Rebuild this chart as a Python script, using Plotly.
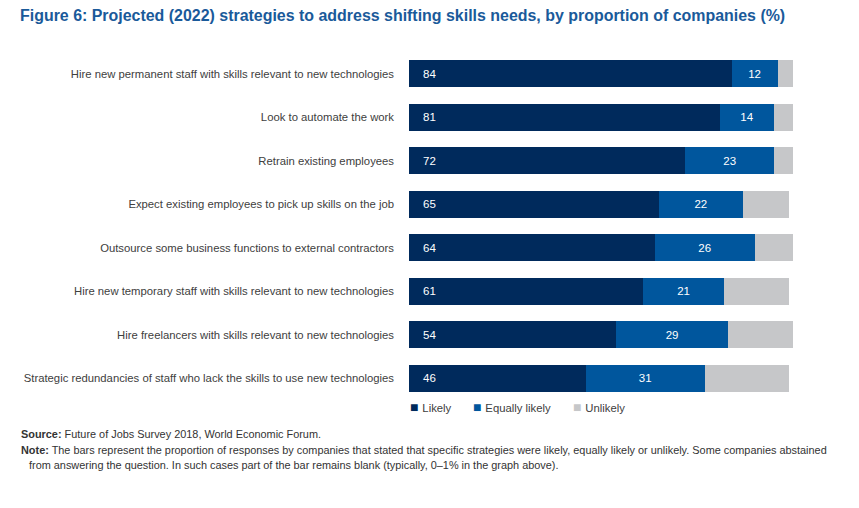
import plotly.graph_objects as go

# Datos (porcentaje de empresas)
strategies = [
    "Hire new permanent staff with skills relevant to new technologies",
    "Look to automate the work",
    "Retrain existing employees",
    "Expect existing employees to pick up skills on the job",
    "Outsource some business functions to external contractors",
    "Hire new temporary staff with skills relevant to new technologies",
    "Hire freelancers with skills relevant to new technologies",
    "Strategic redundancies of staff who lack the skills to use new technologies",
]
likely = [84, 81, 72, 65, 64, 61, 54, 46]
equally_likely = [12, 14, 23, 22, 26, 21, 29, 31]
unlikely = [4, 5, 5, 12, 10, 17, 17, 22]
series_names = ["Likely", "Equally likely", "Unlikely"]

NAVY = "#002a5c"
BLUE = "#00569d"
GREY = "#c6c7c9"
FONT = "Liberation Sans, Arial, sans-serif"

# La pagina tiene 8px de margen en el body: las medidas de la referencia se corrigen
OFF = 8
W, H = 859, 508
L, T = 409 - OFF, 52 - OFF
R = W - (793.5 - OFF)
B = H - (400 - OFF)
plot_w = W - L - R
plot_h = H - T - B


def px_x(p):
    return (p - OFF - L) / plot_w


def px_y(p):
    return (H - B - (p - OFF)) / plot_h


fig = go.Figure()

fig.add_trace(go.Bar(
    name="Likely", y=strategies, x=likely, orientation="h",
    marker=dict(color=NAVY, line=dict(width=0)),
))
fig.add_trace(go.Bar(
    name="Equally likely", y=strategies, x=equally_likely, orientation="h",
    marker=dict(color=BLUE, line=dict(width=0)),
    text=equally_likely, textposition="inside", insidetextanchor="middle",
    textfont=dict(color="white", size=11.5, family=FONT),
))
fig.add_trace(go.Bar(
    name="Unlikely", y=strategies, x=unlikely, orientation="h",
    marker=dict(color=GREY, line=dict(width=0)),
))

# Etiquetas de "Likely" al principio de la barra
for s, v in zip(strategies, likely):
    fig.add_annotation(
        x=0, y=s, text=str(v), showarrow=False, xanchor="left", xshift=12,
        font=dict(color="white", size=11.5, family=FONT),
    )

# Leyenda compacta como en el original
for name, col, xpos in zip(series_names, [NAVY, BLUE, GREY], [408, 471, 571]):
    fig.add_annotation(
        xref="paper", yref="paper", x=px_x(xpos), y=px_y(407),
        xanchor="left", yanchor="middle", showarrow=False,
        text=f'<span style="color:{col};font-size:14px">■ </span>{name}',
        font=dict(size=11.3, color="#404040", family=FONT),
    )

# Fuente y nota
foot = dict(size=10.9, color="#333333", family=FONT)
fig.add_annotation(
    xref="paper", yref="paper", x=px_x(18), y=px_y(434), xanchor="left", yanchor="middle",
    text="<b>Source:</b> Future of Jobs Survey 2018, World Economic Forum.",
    showarrow=False, font=foot, align="left",
)
fig.add_annotation(
    xref="paper", yref="paper", x=px_x(18), y=px_y(450), xanchor="left", yanchor="middle",
    text="<b>Note:</b> The bars represent the proportion of responses by companies that stated that specific strategies were likely, equally likely or unlikely. Some companies abstained",
    showarrow=False, font=foot, align="left",
)
fig.add_annotation(
    xref="paper", yref="paper", x=px_x(27), y=px_y(465), xanchor="left", yanchor="middle",
    text="from answering the question. In such cases part of the bar remains blank (typically, 0–1% in the graph above).",
    showarrow=False, font=foot, align="left",
)

fig.update_layout(
    width=W, height=H,
    barmode="stack", bargap=0.38,
    plot_bgcolor="white", paper_bgcolor="white",
    margin=dict(l=L, r=R, t=T, b=B),
    title=dict(
        text="<b>Figure 6: Projected (2022) strategies to address shifting skills needs, by proportion of companies (%)</b>",
        x=(20 - OFF) / W, xanchor="left", y=1 - (15 - OFF) / H, yanchor="middle",
        font=dict(size=15.95, color="#1a5a9a", family=FONT),
    ),
    xaxis=dict(range=[0, 100], visible=False, fixedrange=True),
    yaxis=dict(
        autorange="reversed", showgrid=False, zeroline=False, showline=False,
        ticks="", ticklabelstandoff=14,
        tickfont=dict(size=11.3, color="#404040", family=FONT),
    ),
    showlegend=False,
)

fig.write_html("out.html")
